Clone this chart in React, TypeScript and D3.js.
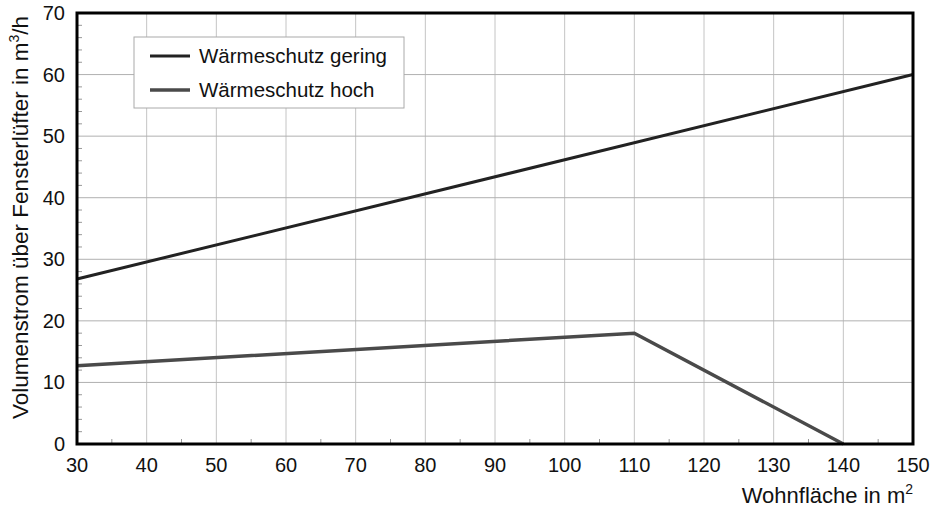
import React, { useEffect, useRef } from 'react';
import * as d3 from 'd3';

const xTicks = [30, 40, 50, 60, 70, 80, 90, 100, 110, 120, 130, 140, 150];
const yTicks = [0, 10, 20, 30, 40, 50, 60, 70];

const geringX = [30, 150];
const geringY = [26.8, 60];
const hochX = [30, 110, 140];
const hochY = [12.7, 18, 0];

const seriesNames = ['Wärmeschutz gering', 'Wärmeschutz hoch'];
const seriesColors = ['#222222', '#4a4a4a'];

export default function App() {
  const svgRef = useRef<SVGSVGElement>(null);

  useEffect(() => {
    if (!svgRef.current) return;
    const svg = d3.select(svgRef.current);
    svg.selectAll('*').remove();

    const W = 934;
    const H = 508;
    const margin = { top: 13, right: 21, bottom: 64, left: 77 };
    const width = W - margin.left - margin.right;
    const height = H - margin.top - margin.bottom;
    const font = 'Liberation Sans, Arial, sans-serif';

    const x = d3.scaleLinear().domain([30, 150]).range([0, width]);
    const y = d3.scaleLinear().domain([0, 70]).range([height, 0]);

    const g = svg.append('g').attr('transform', `translate(${margin.left},${margin.top})`);

    // grid
    g.selectAll('.vgrid')
      .data(xTicks)
      .enter()
      .append('line')
      .attr('x1', (d) => x(d))
      .attr('x2', (d) => x(d))
      .attr('y1', 0)
      .attr('y2', height)
      .attr('stroke', '#c4c4c4')
      .attr('stroke-width', 1);

    g.selectAll('.hgrid')
      .data(yTicks)
      .enter()
      .append('line')
      .attr('x1', 0)
      .attr('x2', width)
      .attr('y1', (d) => y(d))
      .attr('y2', (d) => y(d))
      .attr('stroke', '#b0b0b0')
      .attr('stroke-width', 1);

    // minor ticks (inside)
    g.selectAll('.xminor')
      .data(d3.range(35, 150, 10))
      .enter()
      .append('line')
      .attr('x1', (d) => x(d))
      .attr('x2', (d) => x(d))
      .attr('y1', height)
      .attr('y2', height - 5)
      .attr('stroke', '#999')
      .attr('stroke-width', 1);

    g.selectAll('.yminor')
      .data(d3.range(2, 70, 2).filter((d) => d % 10 !== 0))
      .enter()
      .append('line')
      .attr('x1', 0)
      .attr('x2', 5)
      .attr('y1', (d) => y(d))
      .attr('y2', (d) => y(d))
      .attr('stroke', '#999')
      .attr('stroke-width', 1);

    // lines
    const line = d3
      .line<[number, number]>()
      .x((d) => x(d[0]))
      .y((d) => y(d[1]));

    const gering = geringX.map((v, i) => [v, geringY[i]] as [number, number]);
    const hoch = hochX.map((v, i) => [v, hochY[i]] as [number, number]);

    g.append('path')
      .datum(gering)
      .attr('fill', 'none')
      .attr('stroke', seriesColors[0])
      .attr('stroke-width', 3)
      .attr('d', line);

    g.append('path')
      .datum(hoch)
      .attr('fill', 'none')
      .attr('stroke', seriesColors[1])
      .attr('stroke-width', 3.5)
      .attr('d', line);

    // frame
    g.append('rect')
      .attr('x', 0)
      .attr('y', 0)
      .attr('width', width)
      .attr('height', height)
      .attr('fill', 'none')
      .attr('stroke', '#000')
      .attr('stroke-width', 3);

    // tick labels
    g.selectAll('.xlabel')
      .data(xTicks)
      .enter()
      .append('text')
      .attr('x', (d) => x(d))
      .attr('y', height + 28)
      .attr('text-anchor', 'middle')
      .style('font-family', font)
      .style('font-size', '20px')
      .style('fill', '#111')
      .text((d) => d);

    g.selectAll('.ylabel')
      .data(yTicks)
      .enter()
      .append('text')
      .attr('x', -12)
      .attr('y', (d) => y(d) + 7)
      .attr('text-anchor', 'end')
      .style('font-family', font)
      .style('font-size', '20px')
      .style('fill', '#111')
      .text((d) => d);

    // axis titles
    const xt = g
      .append('text')
      .attr('x', width)
      .attr('y', height + 59)
      .attr('text-anchor', 'end')
      .style('font-family', font)
      .style('font-size', '22px')
      .style('fill', '#111');
    xt.append('tspan').text('Wohnfläche in m');
    xt.append('tspan').attr('dy', -9).style('font-size', '14px').text('2');

    const yt = g
      .append('text')
      .attr('transform', `translate(${-49},${height / 2 - 11}) rotate(-90)`)
      .attr('text-anchor', 'middle')
      .style('font-family', font)
      .style('font-size', '22.5px')
      .style('fill', '#111');
    yt.append('tspan').text('Volumenstrom über Fensterlüfter in m');
    yt.append('tspan').attr('dy', -9).style('font-size', '14px').text('3');
    yt.append('tspan').attr('dy', 9).text('/h');

    // legend
    const lg = g.append('g').attr('transform', `translate(${134 - margin.left},${37 - margin.top})`);
    lg.append('rect')
      .attr('width', 270)
      .attr('height', 71)
      .attr('fill', '#fff')
      .attr('stroke', '#aaa')
      .attr('stroke-width', 1);

    seriesNames.forEach((name, i) => {
      const cy = 19 + i * 34;
      lg.append('line')
        .attr('x1', 16)
        .attr('x2', 56)
        .attr('y1', cy)
        .attr('y2', cy)
        .attr('stroke', seriesColors[i])
        .attr('stroke-width', i === 0 ? 3 : 3.5);
      lg.append('text')
        .attr('x', 65)
        .attr('y', cy + 7)
        .style('font-family', font)
        .style('font-size', '20.5px')
        .style('fill', '#111')
        .text(name);
    });
  }, []);

  return (
    <div style={{ position: 'absolute', left: 0, top: 0, width: 934, height: 508, background: '#fff' }}>
      <svg ref={svgRef} width={934} height={508} style={{ display: 'block' }}></svg>
    </div>
  );
}
